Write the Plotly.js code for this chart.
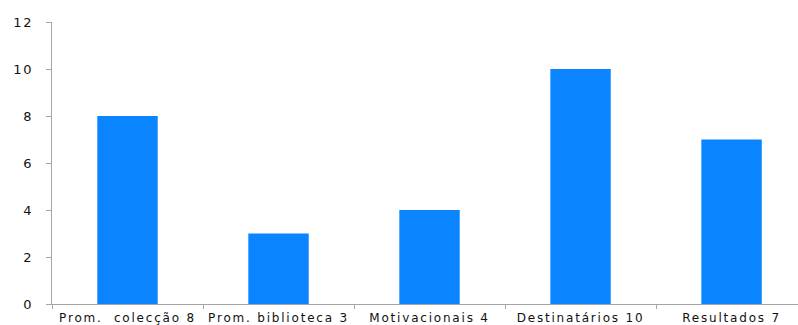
<!DOCTYPE html>
<html>
<head>
<meta charset="utf-8">
<script src="https://cdn.plot.ly/plotly-3.0.1.min.js"></script>
<style>
  html, body { margin: 0; padding: 0; background: #fff; }
  #chart { width: 798px; height: 325px; }
  #chart .xtick text { letter-spacing: 1.8px; }
  #chart .ytick text { letter-spacing: 1.8px; }
</style>
</head>
<body>
<div id="chart"></div>
<script>
// Categories and counts
const categories = ["Prom.  colecção 8", "Prom. biblioteca 3", "Motivacionais 4", "Destinatários 10", "Resultados 7"];
const counts = [8, 3, 4, 10, 7];
const yTicks = [0, 2, 4, 6, 8, 10, 12];

const axisColor = "#a6a6a6";
const xFont = { family: "DejaVu Sans, Verdana, sans-serif", size: 12, color: "#111111" };
const yFont = { family: "DejaVu Sans, Verdana, sans-serif", size: 13, color: "#111111" };

Plotly.newPlot("chart", [{
  type: "bar",
  x: categories,
  y: counts,
  marker: { color: "#0a84ff", line: { width: 0 } },
  width: 0.4,
  hoverinfo: "x+y"
}], {
  width: 798,
  height: 325,
  margin: { l: 52, r: 0, t: 22, b: 21 },
  paper_bgcolor: "#ffffff",
  plot_bgcolor: "#ffffff",
  showlegend: false,
  xaxis: {
    type: "category",
    range: [-0.5, 4.44],
    showline: true,
    linecolor: axisColor,
    linewidth: 1,
    ticks: "outside",
    tickson: "boundaries",
    ticklen: 4,
    tickcolor: axisColor,
    showgrid: false,
    zeroline: false,
    tickfont: xFont,
    ticklabelstandoff: 3
  },
  yaxis: {
    range: [0, 12],
    tickvals: yTicks,
    showline: true,
    linecolor: axisColor,
    linewidth: 1,
    ticks: "outside",
    ticklen: 5,
    tickcolor: axisColor,
    showgrid: false,
    zeroline: false,
    tickfont: yFont,
    ticklabelstandoff: 10
  }
}, { displayModeBar: false, staticPlot: true });
</script>
</body>
</html>
